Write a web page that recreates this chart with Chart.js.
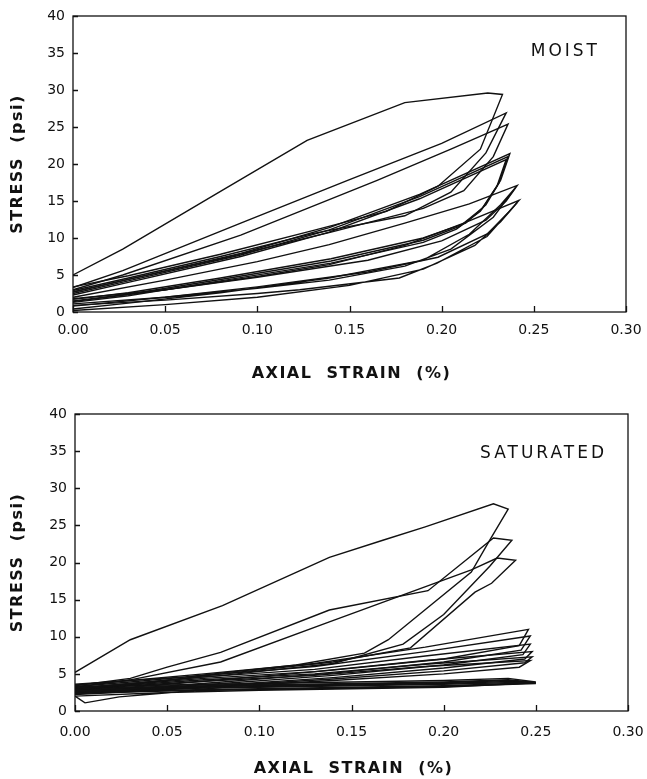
<!DOCTYPE html>
<html>
<head>
<meta charset="utf-8">
<script src="https://cdn.jsdelivr.net/npm/chart.js@4.4.1/dist/chart.umd.min.js"></script>
<style>
  html, body { margin: 0; padding: 0; background: #fff; }
  .panel { position: absolute; left: 0; }
</style>
</head>
<body>
<div class="panel" style="top:0"><canvas id="moistChart" width="647" height="390"></canvas></div>
<div class="panel" style="top:390px"><canvas id="satChart" width="647" height="389"></canvas></div>
<script>
// axis ticks
const strainTicks = [0, 0.05, 0.10, 0.15, 0.20, 0.25, 0.30];
const stressTicks = [0, 5, 10, 15, 20, 25, 30, 35, 40];

// MOIST loops: [axial strain %, stress psi], loading branch then unloading branch
const moistA = [[0,5.0],[0.027,8.5],[0.08,16.3],[0.127,23.2],[0.18,28.3],[0.225,29.6],[0.233,29.4],[0.221,22.0],[0.198,17.0],[0.17,13.6],[0.13,11.0],[0.08,7.8],[0.03,4.9],[0,3.4]];
const moistB = [[0,3.3],[0.027,5.6],[0.091,12.0],[0.149,17.8],[0.2,22.8],[0.235,26.9],[0.224,21.5],[0.205,16.2],[0.18,13.0],[0.13,10.6],[0.08,7.5],[0.03,4.6],[0,2.9]];
const moistC = [[0,3.0],[0.027,5.0],[0.091,10.4],[0.165,17.8],[0.205,22.0],[0.236,25.4],[0.228,21.0],[0.212,16.4],[0.19,14.0],[0.14,10.8],[0.08,7.2],[0.03,4.4],[0,2.7]];
const moistD1 = [[0,2.7],[0.03,4.4],[0.091,7.9],[0.139,11.4],[0.188,15.9],[0.237,21.4],[0.232,17.8],[0.224,14.5],[0.213,12.0],[0.19,10.0],[0.14,7.2],[0.08,4.6],[0.03,2.6],[0,1.7]];
const moistD2 = [[0,2.5],[0.03,4.2],[0.091,7.7],[0.139,11.1],[0.188,15.6],[0.236,21.0],[0.231,17.4],[0.222,14.0],[0.21,11.6],[0.19,9.7],[0.14,6.9],[0.08,4.4],[0.03,2.4],[0,1.5]];
const moistD3 = [[0,2.3],[0.03,4.0],[0.091,7.5],[0.139,10.8],[0.188,15.3],[0.235,20.6],[0.23,17.0],[0.221,13.6],[0.208,11.2],[0.19,9.4],[0.14,6.6],[0.08,4.2],[0.03,2.2],[0,1.3]];
const moistE = [[0,2.0],[0.05,4.3],[0.1,6.8],[0.139,9.1],[0.18,12.0],[0.215,14.6],[0.241,17.1],[0.235,15.0],[0.224,12.4],[0.2,9.6],[0.16,7.0],[0.1,4.7],[0.05,3.0],[0,1.8]];
const moistF = [[0,1.4],[0.05,3.0],[0.1,4.8],[0.139,6.4],[0.18,9.0],[0.212,12.0],[0.242,15.1],[0.236,13.4],[0.225,10.6],[0.198,7.4],[0.16,5.4],[0.1,3.4],[0.05,2.0],[0,0.8]];
const moistG = [[0,0.9],[0.05,1.6],[0.1,2.5],[0.123,3.0],[0.177,4.6],[0.1975,6.6],[0.2246,10.2],[0.241,14.8],[0.232,12.2],[0.218,9.0],[0.19,5.8],[0.15,3.6],[0.1,2.0],[0.05,1.0],[0,0.2]];
const moistH = [[0,1.1],[0.05,2.0],[0.1,3.2],[0.139,4.3],[0.18,6.2],[0.205,8.5],[0.228,12.8],[0.24,16.8],[0.232,14.5],[0.215,10.5],[0.19,7.0],[0.139,4.6],[0.08,2.6],[0.03,1.2],[0,0.4]];

// SATURATED loops
const satA = [[0,5.2],[0.03,9.6],[0.08,14.2],[0.138,20.7],[0.167,23.0],[0.19,24.8],[0.227,27.9],[0.235,27.2],[0.225,23.0],[0.215,18.7],[0.17,9.6],[0.157,7.8],[0.12,6.2],[0.06,4.6],[0,3.6]];
const satB = [[0,3.4],[0.03,4.4],[0.05,5.9],[0.079,7.9],[0.138,13.6],[0.1915,16.2],[0.227,23.3],[0.237,23.0],[0.225,19.5],[0.2,13.0],[0.178,9.0],[0.14,6.4],[0.08,4.8],[0.03,3.7],[0,3.1]];
const satC = [[0,3.2],[0.03,4.2],[0.079,6.6],[0.138,12.0],[0.215,19.0],[0.229,20.6],[0.239,20.3],[0.226,17.2],[0.217,16.0],[0.182,8.5],[0.14,6.6],[0.08,5.0],[0.03,3.6],[0,2.9]];
const satM1 = [[0,3.5],[0.03,4.1],[0.07,5.0],[0.13,6.4],[0.19,8.6],[0.246,11.0],[0.241,8.8],[0.2,7.0],[0.14,5.5],[0.08,4.2],[0.03,3.2],[0,2.7]];
const satM2 = [[0,3.3],[0.03,3.9],[0.07,4.8],[0.13,6.0],[0.19,8.0],[0.247,10.1],[0.242,8.2],[0.2,6.6],[0.14,5.1],[0.08,3.9],[0.03,3.0],[0,2.6]];
const satM3 = [[0,3.1],[0.03,3.7],[0.07,4.6],[0.13,5.6],[0.19,7.4],[0.247,9.0],[0.243,7.6],[0.2,6.2],[0.14,4.8],[0.08,3.7],[0.03,2.9],[0,2.5]];
const satM4 = [[0,3.0],[0.03,3.6],[0.07,4.4],[0.13,5.3],[0.19,6.8],[0.248,8.0],[0.244,7.0],[0.2,5.8],[0.14,4.5],[0.08,3.5],[0.03,2.8],[0,2.4]];
const satM5 = [[0,2.9],[0.03,3.5],[0.07,4.2],[0.13,5.0],[0.19,6.3],[0.248,7.3],[0.244,6.5],[0.2,5.4],[0.14,4.3],[0.08,3.4],[0.03,2.7],[0,2.3]];
const satM6 = [[0,2.8],[0.03,3.4],[0.07,4.0],[0.13,4.8],[0.19,6.0],[0.247,6.8],[0.241,5.9],[0.2,5.0],[0.14,4.1],[0.08,3.3],[0.03,2.6],[0,2.2]];
const satL1 = [[0,3.2],[0.05,3.5],[0.1,3.7],[0.15,3.9],[0.2,4.1],[0.235,4.4],[0.25,3.9],[0.2,3.6],[0.15,3.4],[0.1,3.2],[0.05,3.0],[0,2.8]];
const satL2 = [[0,3.0],[0.05,3.3],[0.1,3.5],[0.15,3.7],[0.2,3.9],[0.235,4.2],[0.25,3.8],[0.2,3.4],[0.15,3.2],[0.1,3.0],[0.05,2.8],[0,2.6]];
const satL3 = [[0,2.8],[0.05,3.2],[0.1,3.4],[0.15,3.6],[0.2,3.8],[0.235,4.1],[0.25,3.7],[0.2,3.3],[0.15,3.1],[0.1,2.9],[0.05,2.7],[0,2.4]];
const satL4 = [[0,2.0],[0.0054,1.1],[0.024,1.9],[0.057,2.6],[0.08,3.2],[0.15,3.5],[0.2,3.7],[0.24,4.0],[0.25,3.8],[0.2,3.2],[0.15,3.0],[0.1,2.8],[0.05,2.5],[0,2.0]];

const moistLoops = [moistA, moistB, moistC, moistD1, moistD2, moistD3, moistE, moistF, moistG, moistH];
const satLoops = [satA, satB, satC, satM1, satM2, satM3, satM4, satM5, satM6, satL1, satL2, satL3, satL4];

const INK = '#111';

// frame, inward tick marks, axis titles and panel label
const framePlugin = {
  id: 'frame',
  afterDraw(chart, args, opts) {
    const { ctx, chartArea: a, scales: { x, y } } = chart;
    ctx.save();
    ctx.strokeStyle = INK;
    ctx.lineWidth = 1.3;
    ctx.strokeRect(a.left, a.top, a.width, a.height);
    ctx.beginPath();
    x.ticks.forEach(t => {
      const px = Math.round(x.getPixelForValue(t.value)) + 0.5;
      ctx.moveTo(px, a.bottom); ctx.lineTo(px, a.bottom - 6);
    });
    y.ticks.forEach(t => {
      const py = Math.round(y.getPixelForValue(t.value)) + 0.5;
      ctx.moveTo(a.left, py); ctx.lineTo(a.left + 5, py);
    });
    ctx.stroke();

    ctx.fillStyle = INK;
    ctx.font = 'bold 16px "DejaVu Sans"';
    ctx.letterSpacing = '1.5px';
    ctx.textAlign = 'center';
    ctx.textBaseline = 'middle';
    ctx.fillText('AXIAL  STRAIN  (%)', (a.left + a.right) / 2 + 2, a.bottom + opts.xTitleGap);
    ctx.save();
    ctx.translate(18, (a.top + a.bottom) / 2);
    ctx.rotate(-Math.PI / 2);
    ctx.fillText('STRESS  (psi)', 0, 0);
    ctx.restore();

    ctx.font = '17px "DejaVu Sans"';
    ctx.letterSpacing = '3px';
    ctx.textAlign = 'right';
    ctx.textBaseline = 'alphabetic';
    ctx.fillText(opts.label, a.right - opts.labelInset, a.top + opts.labelDrop);
    ctx.restore();
  }
};

function makeChart(id, loops, cfg) {
  const ctx = document.getElementById(id).getContext('2d');
  return new Chart(ctx, {
    type: 'scatter',
    data: {
      datasets: loops.map(loop => ({
        data: loop.map(([sx, sy]) => ({ x: sx, y: sy })),
        showLine: true,
        borderColor: INK,
        borderWidth: 1.4,
        pointRadius: 0,
        fill: false,
        tension: 0
      }))
    },
    options: {
      responsive: false,
      animation: false,
      events: [],
      layout: { padding: { top: cfg.padTop, right: cfg.padRight, left: 0, bottom: 0 } },
      plugins: {
        legend: { display: false },
        tooltip: { enabled: false },
        frame: cfg.frame
      },
      scales: {
        x: {
          type: 'linear',
          min: 0,
          max: 0.3,
          afterBuildTicks: s => { s.ticks = strainTicks.map(v => ({ value: v })); },
          afterFit: s => { s.height = cfg.xHeight; s.paddingLeft = 0; s.paddingRight = 0; },
          grid: { display: false, drawTicks: false },
          border: { display: false },
          ticks: {
            padding: cfg.xTickPad,
            color: INK,
            font: { family: 'DejaVu Sans', size: 14 },
            maxRotation: 0,
            callback: v => Number(v).toFixed(2)
          }
        },
        y: {
          type: 'linear',
          min: 0,
          max: 40,
          afterBuildTicks: s => { s.ticks = stressTicks.map(v => ({ value: v })); },
          afterFit: s => { s.width = cfg.yWidth; s.paddingTop = 0; s.paddingBottom = 0; },
          grid: { display: false, drawTicks: false },
          border: { display: false },
          ticks: {
            padding: 8,
            color: INK,
            font: { family: 'DejaVu Sans', size: 14 }
          }
        }
      }
    },
    plugins: [framePlugin]
  });
}

makeChart('moistChart', moistLoops, {
  padTop: 16, padRight: 21, yWidth: 73, xHeight: 78, xTickPad: 10,
  frame: { label: 'MOIST', labelInset: 26, labelDrop: 40, xTitleGap: 62 }
});

makeChart('satChart', satLoops, {
  padTop: 24, padRight: 19, yWidth: 75, xHeight: 68, xTickPad: 13,
  frame: { label: 'SATURATED', labelInset: 21, labelDrop: 44, xTitleGap: 58 }
});
</script>
</body>
</html>
